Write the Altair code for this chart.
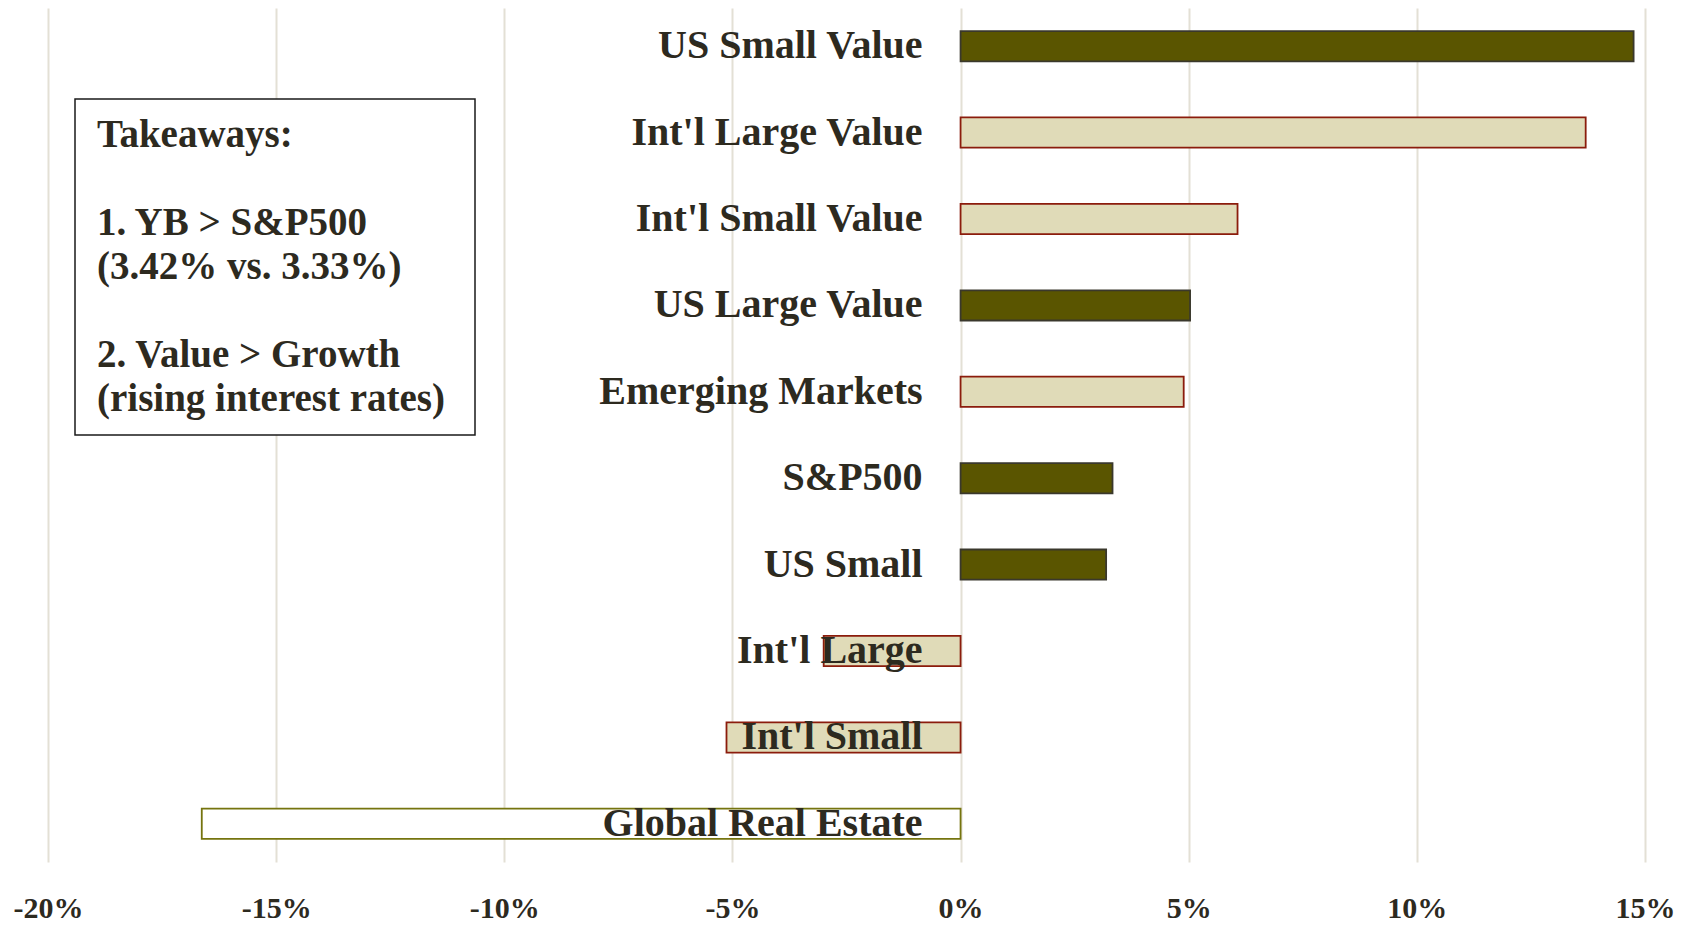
import altair as alt
import pandas as pd

categories = ["US Small Value", "Int'l Large Value", "Int'l Small Value", "US Large Value",
              "Emerging Markets", "S&P500", "US Small", "Int'l Large", "Int'l Small",
              "Global Real Estate"]
returns = [14.75, 13.70, 6.07, 5.03, 4.89, 3.33, 3.19, -3.00, -5.13, -16.63]
groups = ["US", "Intl", "Intl", "US", "Intl", "US", "US", "Intl", "Intl", "RE"]

ticks = [-20, -15, -10, -5, 0, 5, 10, 15]
takeaway_lines = ["Takeaways:", "", "1. YB > S&P500", "(3.42% vs. 3.33%)", "",
                  "2. Value > Growth", "(rising interest rates)"]

df = pd.DataFrame({"cat": categories, "ret": returns, "grp": groups})

FONT = "Liberation Serif"
TXT = "#2d2a1f"
W, H = 1597, 854

xscale = alt.Scale(domain=[-20, 15], nice=False, zero=False)
yscale = alt.Scale(domain=categories, paddingInner=0.65, paddingOuter=0.267)

base = alt.Chart(df)

bars = base.mark_bar(strokeWidth=1.8).encode(
    x=alt.X("ret:Q", scale=xscale,
            axis=alt.Axis(values=ticks, labelExpr="datum.value + '%'", title=None,
                          grid=True, gridColor="#e3e0d5", gridWidth=2,
                          domain=False, ticks=False, labelPadding=31, labelFlush=False,
                          labelFont=FONT, labelFontSize=30, labelFontWeight="bold",
                          labelColor=TXT)),
    y=alt.Y("cat:N", scale=yscale, sort=categories, axis=None),
    fill=alt.Fill("grp:N", scale=alt.Scale(domain=["US", "Intl", "RE"],
                                           range=["#5a5500", "#e0dbb8", "#ffffff"]),
                  legend=None),
    stroke=alt.Stroke("grp:N", scale=alt.Scale(domain=["US", "Intl", "RE"],
                                               range=["#3a382c", "#8b1c0c", "#75740e"]),
                      legend=None),
)

labels = base.mark_text(align="right", baseline="middle", dx=-38, font=FONT,
                        fontSize=40, fontWeight="bold", color=TXT).encode(
    x=alt.X("zero:Q", scale=xscale),
    y=alt.Y("cat:N", scale=yscale, sort=categories),
    text="cat:N",
).transform_calculate(zero="0")

box = alt.Chart(pd.DataFrame({"a": [0]})).mark_rect(
    fill="white", stroke="#1a1a1a", strokeWidth=1.5).encode(
    x=alt.value(27), x2=alt.value(427), y=alt.value(91), y2=alt.value(427))

text_layers = []
for i, line in enumerate(takeaway_lines):
    if not line:
        continue
    text_layers.append(
        alt.Chart(pd.DataFrame({"t": [line]})).mark_text(
            align="left", baseline="top", font=FONT,
            fontSize=39, fontWeight="bold", color=TXT).encode(
            x=alt.value(49), y=alt.value(108 + i * 44), text="t:N")
    )

chart = alt.layer(bars, box, *text_layers, labels).properties(
    width=W, height=H,
    autosize=alt.AutoSizeParams(type="none"),
    padding={"left": 40, "top": 0, "right": 30, "bottom": 60},
    background="white",
).configure_view(stroke=None)

chart.save("out.html", embed_options={"renderer": "svg", "actions": False})
